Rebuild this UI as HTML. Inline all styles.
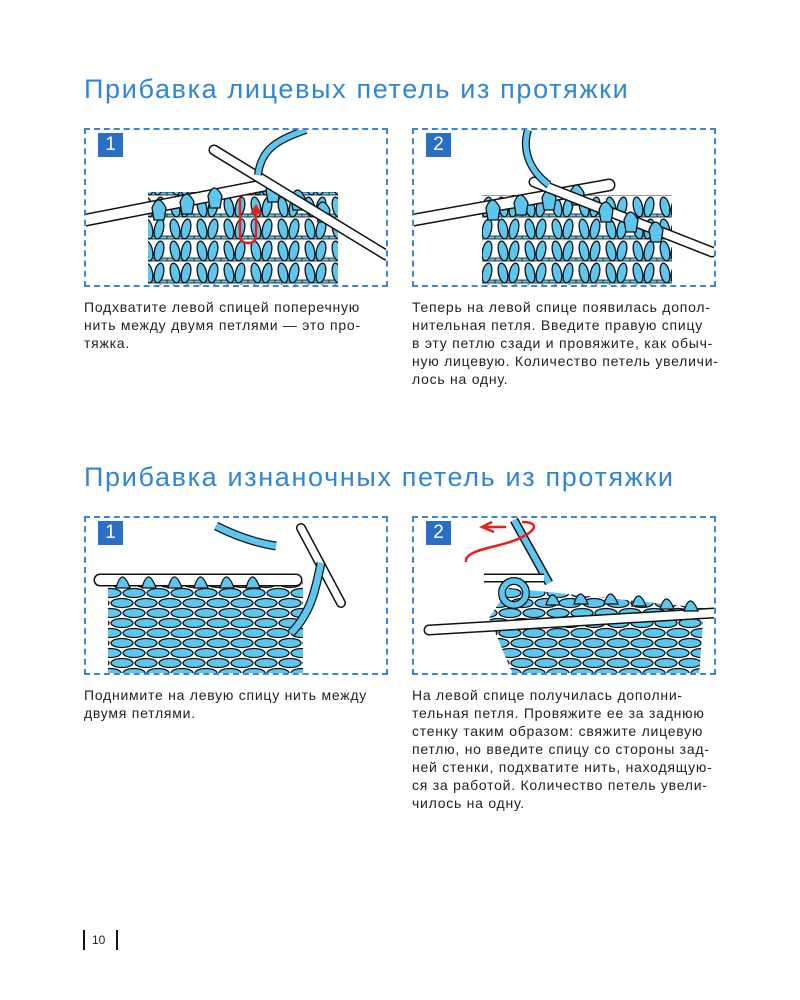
<!DOCTYPE html>
<html><head><meta charset="utf-8"><style>
body{margin:0;background:#fff;}
.pg{position:relative;width:800px;height:1000px;overflow:hidden;font-family:"Liberation Sans",sans-serif;}
h1{position:absolute;left:84px;margin:0;font-weight:normal;font-size:27px;letter-spacing:1.65px;color:#2f86d6;}
.box{position:absolute;width:304px;height:159px;border:2px dashed #3a86d4;box-sizing:border-box;overflow:hidden;}
.num{position:absolute;left:12px;top:3px;width:25px;height:24px;background:#2a6fc4;color:#fff;font-size:19px;text-align:center;line-height:24px;z-index:3;}
.box svg{position:absolute;left:0;top:0;}
.t{position:absolute;font-size:14px;letter-spacing:0.75px;line-height:18px;color:#222;width:340px;}
</style></head><body><div class="pg">
<svg width="0" height="0" style="position:absolute"><defs>
<pattern id="st" width="27" height="22" patternUnits="userSpaceOnUse">
<rect width="27" height="22" fill="#fff"/>
<rect x="0" y="18" width="27" height="3" fill="#5cc6ee" stroke="#111" stroke-width="0.8"/>
<ellipse cx="8" cy="11" rx="4.5" ry="10" transform="rotate(-12 8 11)" fill="#5cc6ee" stroke="#111" stroke-width="1.3"/>
<ellipse cx="19" cy="11" rx="4.5" ry="10" transform="rotate(12 19 11)" fill="#5cc6ee" stroke="#111" stroke-width="1.3"/>
</pattern>
<pattern id="pu" width="24" height="20" patternUnits="userSpaceOnUse">
<rect width="24" height="20" fill="#fff"/>
<ellipse cx="12" cy="5" rx="11" ry="4.5" fill="#5cc6ee" stroke="#111" stroke-width="1.3"/>
<ellipse cx="0" cy="15" rx="11" ry="4.5" fill="#5cc6ee" stroke="#111" stroke-width="1.3"/>
<ellipse cx="24" cy="15" rx="11" ry="4.5" fill="#5cc6ee" stroke="#111" stroke-width="1.3"/>
</pattern>
</defs></svg>

<h1 style="top:74px">Прибавка лицевых петель из протяжки</h1>

<div class="box" style="left:84px;top:128px"><div class="num">1</div>
<svg width="304" height="159">
<rect x="62" y="62" width="190" height="100" fill="url(#st)"/>
<line x1="0" y1="90" x2="180" y2="55" stroke="#111" stroke-width="13" stroke-linecap="round"/>
<line x1="0" y1="90" x2="180" y2="55" stroke="#fff" stroke-width="10" stroke-linecap="round"/>
<g fill="#5cc6ee" stroke="#111" stroke-width="1.3">
<path d="M66 78 q6 -16 14 0 l-2 12 h-10z"/><path d="M94 72 q6 -16 14 0 l-2 12 h-10z"/><path d="M122 66 q6 -16 14 0 l-2 12 h-10z"/>
<path d="M180 60 q6 -16 14 0 l-2 12 h-10z"/><path d="M205 68 q6 -16 14 0 l-2 12 h-10z"/><path d="M230 80 q6 -16 14 0 l-2 12 h-10z"/></g>
<line x1="128" y1="20" x2="300" y2="125" stroke="#111" stroke-width="11" stroke-linecap="round"/>
<line x1="128" y1="20" x2="300" y2="125" stroke="#fff" stroke-width="8" stroke-linecap="round"/>
<path d="M220 0 C190 10 175 20 172 45" fill="none" stroke="#111" stroke-width="8"/>
<path d="M220 0 C190 10 175 20 172 45" fill="none" stroke="#5cc6ee" stroke-width="5.5"/>
<path d="M154 68 V105 q0 8 8 8 q8 0 8 -8 V82" fill="none" stroke="#e8201c" stroke-width="2.5"/>
<path d="M164 84 L170 74 L176 84z" fill="#e8201c"/>
</svg></div>

<div class="box" style="left:412px;top:128px"><div class="num">2</div>
<svg width="304" height="159">
<rect x="68" y="65" width="190" height="100" fill="url(#st)"/>
<line x1="0" y1="90" x2="195" y2="55" stroke="#111" stroke-width="13" stroke-linecap="round"/>
<line x1="0" y1="90" x2="195" y2="55" stroke="#fff" stroke-width="10" stroke-linecap="round"/>
<g fill="#5cc6ee" stroke="#111" stroke-width="1.3">
<path d="M72 78 q6 -16 14 0 l-2 12 h-10z"/><path d="M100 73 q6 -16 14 0 l-2 12 h-10z"/><path d="M128 68 q6 -16 14 0 l-2 12 h-10z"/><path d="M156 63 q6 -16 14 0 l-2 12 h-10z"/></g>
<line x1="120" y1="52" x2="298" y2="122" stroke="#111" stroke-width="11" stroke-linecap="round"/>
<line x1="120" y1="52" x2="298" y2="122" stroke="#fff" stroke-width="8" stroke-linecap="round"/>
<g fill="#5cc6ee" stroke="#111" stroke-width="1.3">
<path d="M185 80 q6 -16 14 0 l-2 12 h-10z"/><path d="M210 90 q6 -16 14 0 l-2 12 h-10z"/><path d="M235 100 q6 -16 14 0 l-2 12 h-10z"/></g>
<path d="M114 0 C108 20 115 40 135 55" fill="none" stroke="#111" stroke-width="8"/>
<path d="M114 0 C108 20 115 40 135 55" fill="none" stroke="#5cc6ee" stroke-width="5.5"/>
</svg></div>

<div class="t" style="left:84px;top:298px">Подхватите левой спицей поперечную<br>нить между двумя петлями — это про-<br>тяжка.</div>
<div class="t" style="left:412px;top:298px">Теперь на левой спице появилась допол-<br>нительная петля. Введите правую спицу<br>в эту петлю сзади и провяжите, как обыч-<br>ную лицевую. Количество петель увеличи-<br>лось на одну.</div>

<h1 style="top:462px">Прибавка изнаночных петель из протяжки</h1>

<div class="box" style="left:84px;top:516px"><div class="num">1</div>
<svg width="304" height="159">
<rect x="22" y="62" width="195" height="100" fill="url(#pu)"/>
<line x1="14" y1="62" x2="210" y2="62" stroke="#111" stroke-width="13" stroke-linecap="round"/>
<line x1="14" y1="62" x2="210" y2="62" stroke="#fff" stroke-width="10" stroke-linecap="round"/>
<g fill="#5cc6ee" stroke="#111" stroke-width="1.3">
<path d="M30 70 q6 -22 14 0z"/><path d="M56 70 q6 -22 14 0z"/><path d="M82 70 q6 -22 14 0z"/><path d="M108 70 q6 -22 14 0z"/><path d="M134 70 q6 -22 14 0z"/><path d="M160 70 q6 -22 14 0z"/></g>
<line x1="215" y1="10" x2="255" y2="85" stroke="#111" stroke-width="10" stroke-linecap="round"/>
<line x1="215" y1="10" x2="255" y2="85" stroke="#fff" stroke-width="7" stroke-linecap="round"/>
<path d="M130 8 C150 18 170 25 190 28" fill="none" stroke="#111" stroke-width="9"/>
<path d="M130 8 C150 18 170 25 190 28" fill="none" stroke="#5cc6ee" stroke-width="6.5"/>
<path d="M235 45 C230 70 225 95 205 115" fill="none" stroke="#111" stroke-width="9"/>
<path d="M235 45 C230 70 225 95 205 115" fill="none" stroke="#5cc6ee" stroke-width="6.5"/>
</svg></div>

<div class="box" style="left:412px;top:516px"><div class="num">2</div>
<svg width="304" height="159">
<path d="M75 100 L95 70 L290 90 L285 159 L100 159z" fill="url(#pu)"/>
<line x1="15" y1="112" x2="300" y2="95" stroke="#111" stroke-width="11" stroke-linecap="round"/>
<line x1="15" y1="112" x2="300" y2="95" stroke="#fff" stroke-width="8" stroke-linecap="round"/>
<g fill="#5cc6ee" stroke="#111" stroke-width="1.3">
<path d="M132 87 q6 -20 14 0z"/><path d="M160 86 q6 -20 14 0z"/><path d="M190 86 q6 -20 14 0z"/><path d="M218 88 q6 -20 14 0z"/><path d="M246 91 q6 -20 14 0z"/><path d="M270 93 q6 -20 14 0z"/></g>
<line x1="100" y1="2" x2="135" y2="65" stroke="#111" stroke-width="9"/>
<line x1="100" y1="2" x2="135" y2="65" stroke="#5cc6ee" stroke-width="6"/>
<path d="M70 60 L130 60" stroke="#111" stroke-width="9"/>
<path d="M70 60 L130 60" stroke="#fff" stroke-width="6"/>
<circle cx="100" cy="75" r="12" fill="none" stroke="#111" stroke-width="8"/>
<circle cx="100" cy="75" r="12" fill="none" stroke="#5cc6ee" stroke-width="5.5"/>
<path d="M52 44 C50 30 90 30 110 18 C125 10 122 4 108 4" fill="none" stroke="#e8201c" stroke-width="2.5"/>
<path d="M80 14 L68 9 L78 4" fill="none" stroke="#e8201c" stroke-width="2.5"/>
<line x1="68" y1="9" x2="92" y2="9" stroke="#e8201c" stroke-width="2.5"/>
</svg></div>

<div class="t" style="left:84px;top:686px">Поднимите на левую спицу нить между<br>двумя петлями.</div>
<div class="t" style="left:412px;top:686px">На левой спице получилась дополни-<br>тельная петля. Провяжите ее за заднюю<br>стенку таким образом: свяжите лицевую<br>петлю, но введите спицу со стороны зад-<br>ней стенки, подхватите нить, находящую-<br>ся за работой. Количество петель увели-<br>чилось на одну.</div>

<div style="position:absolute;left:83px;top:930px;width:2px;height:20px;background:#111"></div>
<div style="position:absolute;left:92px;top:933px;font-size:12px;color:#222">10</div>
<div style="position:absolute;left:116px;top:930px;width:2px;height:20px;background:#111"></div>
</div></body></html>
